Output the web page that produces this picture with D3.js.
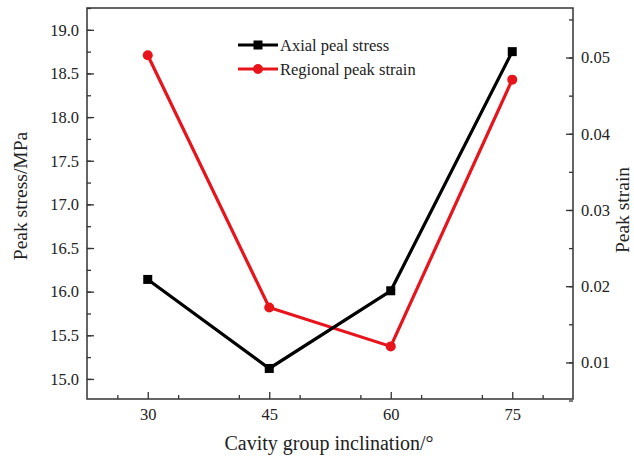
<!DOCTYPE html>
<html><head><meta charset="utf-8">
<script src="https://cdn.jsdelivr.net/npm/d3@7"></script>
<style>body{margin:0;background:#fff}svg{display:block}text{font-family:"Liberation Serif","Times New Roman",serif;fill:#222}</style>
</head><body><svg id="c" width="634" height="459"></svg>
<script>
const categories = [30, 45, 60, 75];
const stressValues = [16.14, 15.12, 16.01, 18.75];
const strainValues = [0.0503, 0.0172, 0.0121, 0.0471];
const leftTicks = [15.0, 15.5, 16.0, 16.5, 17.0, 17.5, 18.0, 18.5, 19.0];
const rightTicks = [0.01, 0.02, 0.03, 0.04, 0.05];
const seriesNames = ["Axial peal stress", "Regional peak strain"];

const svg = d3.select("#c");
const L = 87, R = 573, T = 8, B = 399;
const x = d3.scaleLinear().domain([22.5, 82.5]).range([L, R]);
const yL = d3.scaleLinear().domain([14.77, 19.25]).range([B, T]);
const yR = d3.scaleLinear().domain([0.0052, 0.0565]).range([B, T]);

const axisCol = "#333";
const fam = '"Liberation Serif","Times New Roman",serif';
function styleAxis(g){ g.attr("font-family",fam); g.select(".domain").remove(); g.selectAll("line").attr("stroke",axisCol).attr("stroke-width",1.3); g.selectAll("text").style("font-size","16.5px").style("font-family",fam).attr("fill","#222"); }

// minor ticks
const minorL = d3.range(14.75, 19.26, 0.25).filter(v=>v>=14.77);
const minorR = d3.range(0.005, 0.0566, 0.005);
const minorX = d3.range(26.25, 82.5, 7.5);
svg.append("g").attr("transform",`translate(${L},0)`).call(d3.axisLeft(yL).tickValues(minorL).tickSize(-4).tickFormat("")).call(styleAxis);
svg.append("g").attr("transform",`translate(${R},0)`).call(d3.axisRight(yR).tickValues(minorR).tickSize(-4).tickFormat("")).call(styleAxis);
svg.append("g").attr("transform",`translate(0,${B})`).call(d3.axisBottom(x).tickValues(minorX).tickSize(-4).tickFormat("")).call(styleAxis);

// major ticks
svg.append("g").attr("transform",`translate(${L},0)`).call(d3.axisLeft(yL).tickValues(leftTicks).tickSize(-7).tickPadding(8).tickFormat(d3.format(".1f"))).call(styleAxis);
svg.append("g").attr("transform",`translate(${R},0)`).call(d3.axisRight(yR).tickValues(rightTicks).tickSize(-7).tickPadding(8).tickFormat(d3.format(".2f"))).call(styleAxis);
svg.append("g").attr("transform",`translate(0,${B})`).call(d3.axisBottom(x).tickValues(categories).tickSize(-7).tickPadding(9).tickFormat(d3.format("d"))).call(styleAxis);

// frame
svg.append("rect").attr("x",L).attr("y",T).attr("width",R-L).attr("height",B-T).attr("fill","none").attr("stroke",axisCol).attr("stroke-width",1.5);

const red = "#e8141c";
// lines
const lineL = d3.line().x((d,i)=>x(categories[i])).y(d=>yL(d));
const lineR = d3.line().x((d,i)=>x(categories[i])).y(d=>yR(d));
svg.append("path").datum(strainValues).attr("d",lineR).attr("fill","none").attr("stroke",red).attr("stroke-width",3.2);
svg.selectAll(".pr").data(strainValues).enter().append("circle").attr("cx",(d,i)=>x(categories[i])).attr("cy",d=>yR(d)).attr("r",5).attr("fill",red);
svg.append("path").datum(stressValues).attr("d",lineL).attr("fill","none").attr("stroke","#000").attr("stroke-width",3.2);
svg.selectAll(".pl").data(stressValues).enter().append("rect").attr("x",(d,i)=>x(categories[i])-4.5).attr("y",d=>yL(d)-4.5).attr("width",9).attr("height",9).attr("fill","#000");

// legend
const leg = [{name:seriesNames[0],col:"#000",shape:"sq",y:45},{name:seriesNames[1],col:red,shape:"ci",y:69}];
leg.forEach(l=>{
  svg.append("line").attr("x1",238).attr("x2",278).attr("y1",l.y).attr("y2",l.y).attr("stroke",l.col).attr("stroke-width",3.2);
  if(l.shape==="sq") svg.append("rect").attr("x",258-4.5).attr("y",l.y-4.5).attr("width",9).attr("height",9).attr("fill",l.col);
  else svg.append("circle").attr("cx",258).attr("cy",l.y).attr("r",5).attr("fill",l.col);
  svg.append("text").attr("x",280).attr("y",l.y+5.5).style("font-size","16.5px").text(l.name);
});

// titles
svg.append("text").attr("transform","translate(27,196) rotate(-90)").attr("text-anchor","middle").style("font-size","19.5px").text("Peak stress/MPa");
svg.append("text").attr("transform","translate(629,210) rotate(-90)").attr("text-anchor","middle").style("font-size","19.5px").text("Peak strain");
svg.append("text").attr("x",329).attr("y",450).attr("text-anchor","middle").style("font-size","20px").text("Cavity group inclination/°");
</script></body></html>
